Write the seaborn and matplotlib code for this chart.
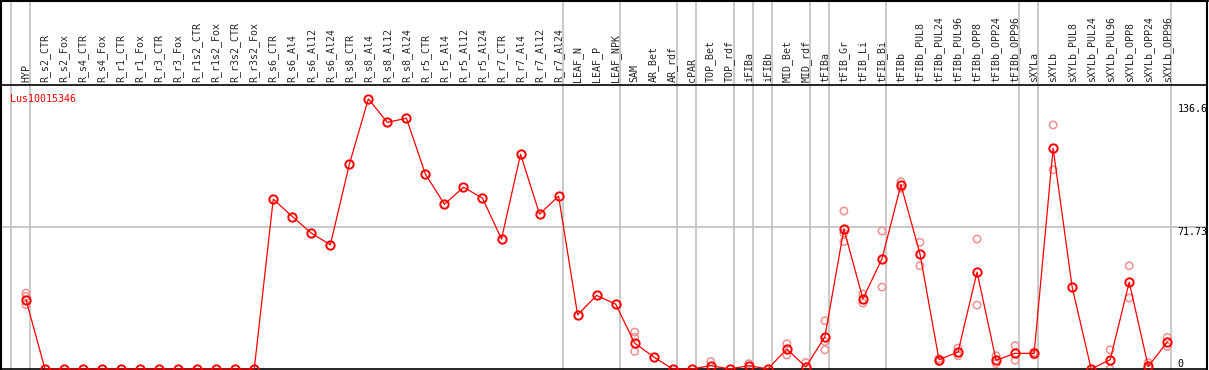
import matplotlib
matplotlib.use("Agg")
import matplotlib.pyplot as plt
import seaborn as sns
import pandas as pd
from matplotlib.lines import Line2D

# categories (samples)
samples = ["HYP", "R_s2_CTR", "R_s2_Fox", "R_s4_CTR", "R_s4_Fox", "R_r1_CTR", "R_r1_Fox",
           "R_r3_CTR", "R_r3_Fox", "R_r1s2_CTR", "R_r1s2_Fox", "R_r3s2_CTR", "R_r3s2_Fox",
           "R_s6_CTR", "R_s6_Al4", "R_s6_Al12", "R_s6_Al24", "R_s8_CTR", "R_s8_Al4",
           "R_s8_Al12", "R_s8_Al24", "R_r5_CTR", "R_r5_Al4", "R_r5_Al12", "R_r5_Al24",
           "R_r7_CTR", "R_r7_Al4", "R_r7_Al12", "R_r7_Al24", "LEAF_N", "LEAF_P", "LEAF_NPK",
           "SAM", "AR_Bet", "AR_rdf", "cPAR", "TOP_Bet", "TOP_rdf", "iFIBa", "iFIBb",
           "MID_Bet", "MID_rdf", "tFIBa", "tFIB_Gr", "tFIB_Li", "tFIB_Bi", "tFIBb",
           "tFIBb_PUL8", "tFIBb_PUL24", "tFIBb_PUL96", "tFIBb_OPP8", "tFIBb_OPP24",
           "tFIBb_OPP96", "sXYLa", "sXYLb", "sXYLb_PUL8", "sXYLb_PUL24", "sXYLb_PUL96",
           "sXYLb_OPP8", "sXYLb_OPP24", "sXYLb_OPP96"]

# mean expression per sample
means = [35.0, 0, 0, 0, 0, 0, 0, 0, 0, 0, 0, 0, 0,
         85.9, 77.1, 68.7, 62.8, 103.5, 136.6, 124.7, 126.8, 98.5, 83.3, 91.9, 86.4,
         65.7, 108.6, 78.3, 87.4, 27.4, 37.2, 32.8,
         13.1, 6.1, 0, 0, 1.7, 0, 1.7, 0, 10.1, 1.0, 16.3, 70.7, 35.5, 55.7, 93.1,
         58.2, 4.7, 8.6, 49.0, 4.4, 7.9, 7.9, 111.6, 41.4, 0, 4.7, 43.9, 1.3, 13.6]

# replicate values (sample, value)
rep_samples = ["HYP", "HYP", "HYP", "SAM", "SAM", "SAM", "TOP_Bet", "iFIBa",
               "MID_Bet", "MID_Bet", "MID_rdf", "tFIBa", "tFIBa", "tFIBa",
               "tFIB_Gr", "tFIB_Gr", "tFIB_Gr", "tFIB_Li", "tFIB_Li", "tFIB_Bi", "tFIB_Bi",
               "tFIBb", "tFIBb", "tFIBb_PUL8", "tFIBb_PUL8", "tFIBb_PUL24", "tFIBb_PUL24",
               "tFIBb_PUL96", "tFIBb_PUL96", "tFIBb_OPP8", "tFIBb_OPP8",
               "tFIBb_OPP24", "tFIBb_OPP24", "tFIBb_OPP96", "tFIBb_OPP96",
               "sXYLa", "sXYLa", "sXYLb", "sXYLb", "sXYLb_PUL96", "sXYLb_PUL96",
               "sXYLb_OPP8", "sXYLb_OPP8", "sXYLb_OPP24", "sXYLb_OPP24",
               "sXYLb_OPP96", "sXYLb_OPP96"]
rep_values = [38.4, 36.7, 32.5, 18.7, 16.0, 8.9, 3.8, 2.7,
              12.8, 7.1, 3.3, 24.4, 13.9, 9.7,
              79.9, 68.7, 64.4, 37.9, 33.3, 69.8, 41.4,
              94.7, 91.4, 64.1, 52.2, 5.2, 3.8,
              10.6, 6.7, 65.7, 32.3,
              6.7, 2.7, 11.8, 4.4,
              7.1, 8.6, 123.4, 100.7, 9.7, 0,
              52.2, 35.9, 3.3, 0.5,
              16.0, 11.4]

# group separators (after these samples)
separators_after = ["HYP", "R_r7_Al24", "LEAF_NPK", "AR_rdf", "cPAR", "TOP_rdf", "iFIBa",
                    "iFIBb", "MID_rdf", "tFIBa", "tFIB_Bi", "tFIBb_OPP96", "sXYLa",
                    "sXYLb_OPP96"]
gene = "Lus10015346"
y_ticks = [136.6, 71.73, 0]

pos = {s: i for i, s in enumerate(samples)}
df_mean = pd.DataFrame({"x": range(len(samples)), "value": means})
df_rep = pd.DataFrame({"x": [pos[s] for s in rep_samples], "value": rep_values})

sns.set_style("white")
plt.rcParams["font.family"] = ["DejaVu Sans Mono", "DejaVu Sans"]

fig = plt.figure(figsize=(12.09, 3.70), dpi=100)
ax = fig.add_axes([1 / 1209, 1 / 370, 1206 / 1209, 284 / 370])

xmin, xmax = -1.314, 62.09
ymin, ymax = 0, 143.6
ax.set_xlim(xmin, xmax)
ax.set_ylim(ymin, ymax)

top_frac = 369 / 284
for s in separators_after:
    ax.axvline(pos[s] + 0.22, ymin=0, ymax=top_frac, color="#c0c0c0", lw=1.2,
               clip_on=False, zorder=0)
ax.axvline(-0.8, ymin=0, ymax=top_frac, color="#c0c0c0", lw=1.2, clip_on=False, zorder=0)
ax.axhline(71.73, color="#c0c0c0", lw=1.2, zorder=0)

sns.scatterplot(data=df_rep, x="x", y="value", ax=ax, marker="o", s=28,
                facecolor="none", edgecolor="#f09090", linewidth=1.1, zorder=2, legend=False)
sns.lineplot(data=df_mean, x="x", y="value", ax=ax, color="red", lw=0.9, zorder=3,
             marker="o", markersize=6, markerfacecolor="none", markeredgecolor="red",
             markeredgewidth=1.4, clip_on=False)

ax.set_xticks(range(len(samples)))
ax.set_xticklabels(samples, rotation=90, fontsize=7.2, va="bottom")
ax.xaxis.tick_top()
ax.tick_params(axis="x", length=0, pad=2)
ax.set_yticks([])
ax.set_xlabel("")
ax.set_ylabel("")

for v, va in zip(y_ticks, ["top", "top", "bottom"]):
    off = -4 if v == 136.6 else 0
    ax.annotate(f"{v:g}", xy=(60.55, v), xytext=(0, off), textcoords="offset points",
                fontsize=7.2, va=va, ha="left", color="black")

ax.text(9 / 1206, 1 - 9 / 284, gene, transform=ax.transAxes, color="red",
        fontsize=7.2, va="top", ha="left")

for sp in ax.spines.values():
    sp.set_color("black")
    sp.set_linewidth(1.2)

# outer frame of the whole picture
fig.add_artist(Line2D([1 / 1209, 1207.5 / 1209], [369.5 / 370, 369.5 / 370],
                      transform=fig.transFigure, color="black", lw=1.5))
fig.add_artist(Line2D([1 / 1209, 1 / 1209], [0, 1], transform=fig.transFigure,
                      color="black", lw=1.5))
fig.add_artist(Line2D([1207 / 1209, 1207 / 1209], [0, 1], transform=fig.transFigure,
                      color="black", lw=1.5))

fig.savefig("out.png", dpi=100)
plt.close(fig)
